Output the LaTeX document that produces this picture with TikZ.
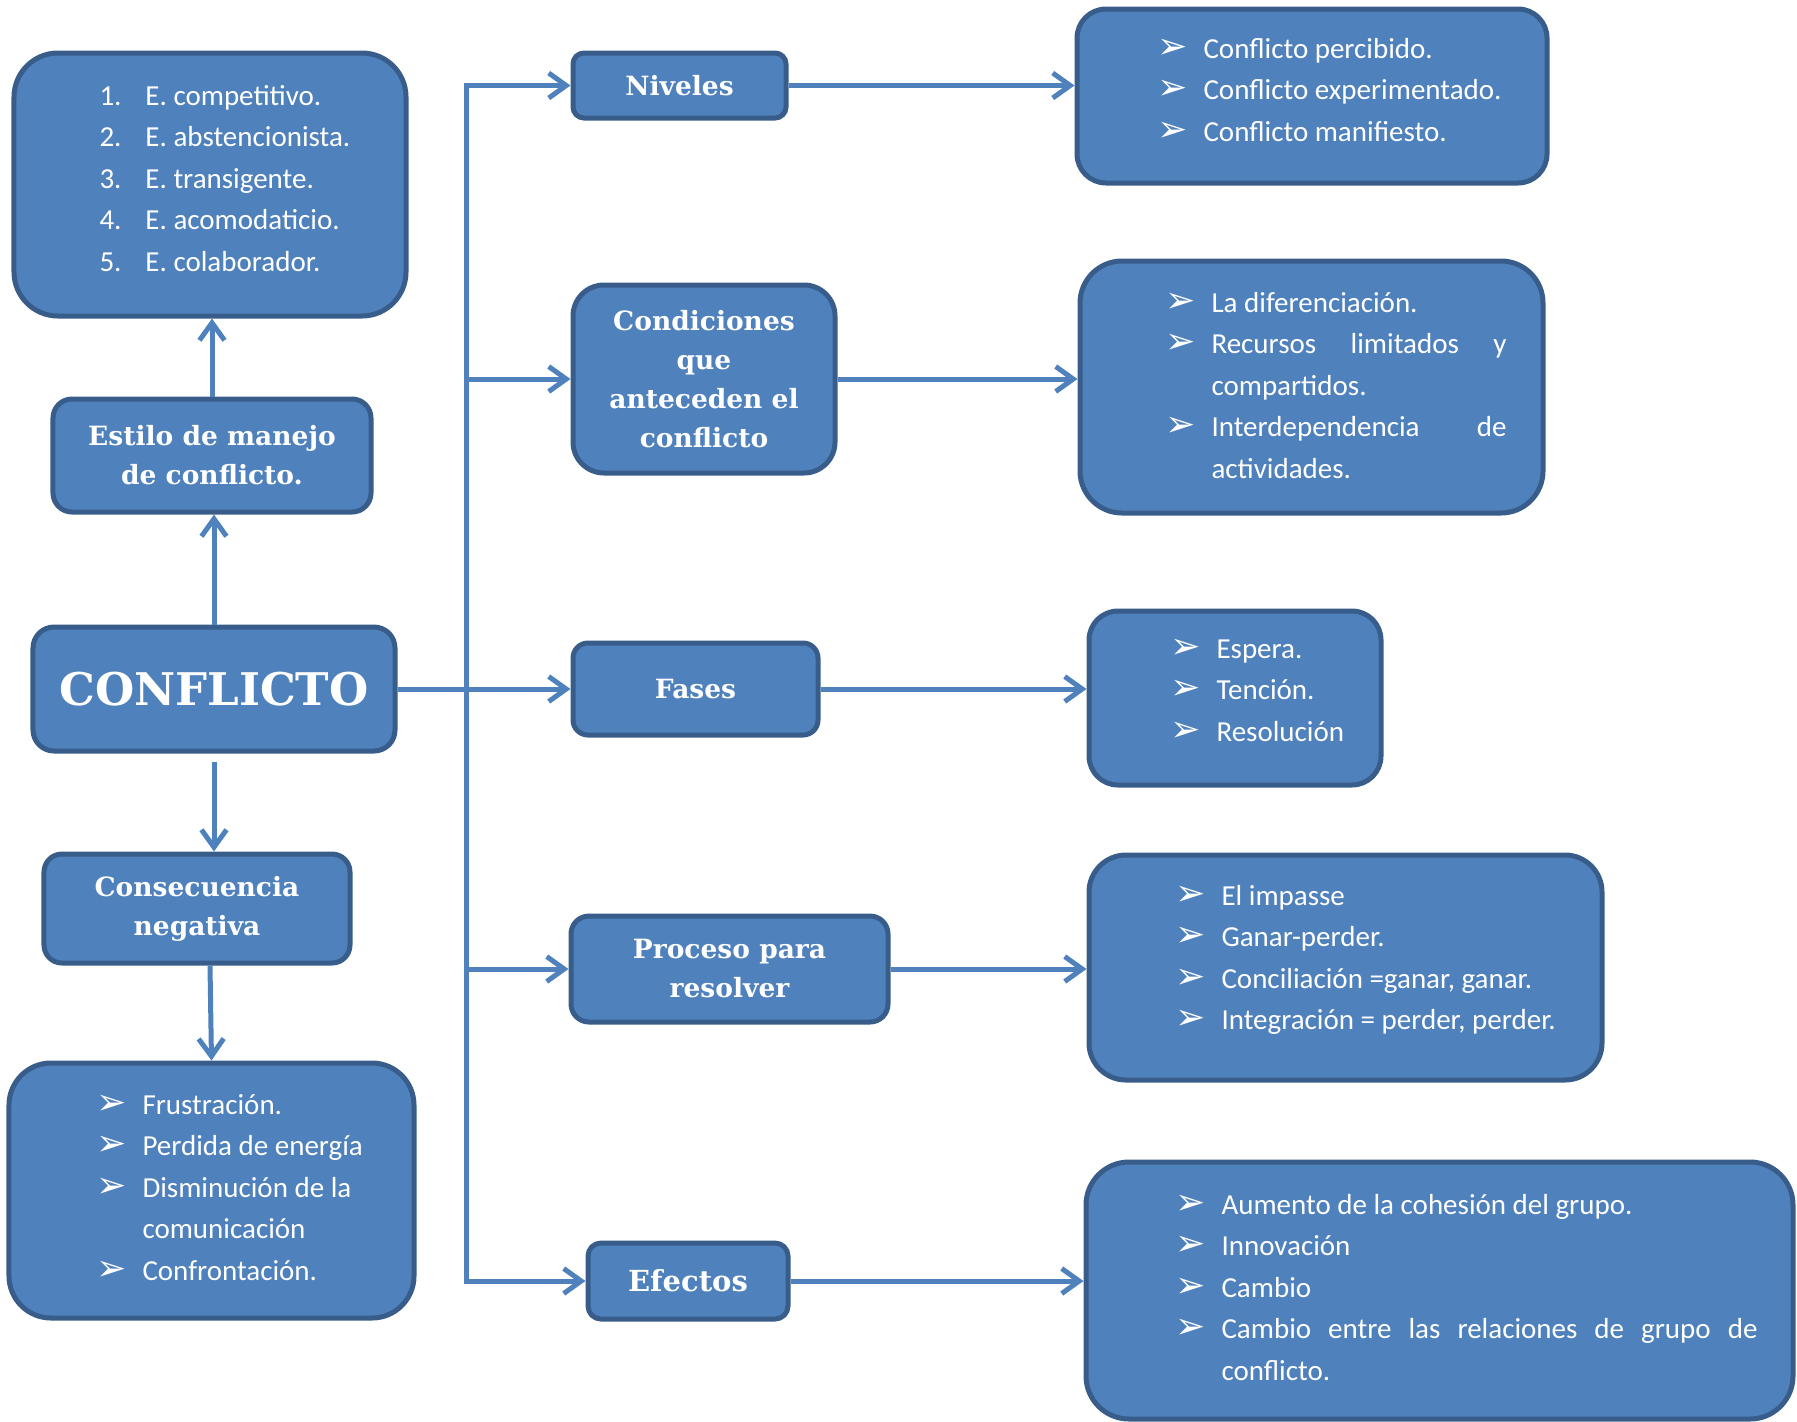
\documentclass[tikz,border=0pt]{standalone}
\usepackage{fontspec}
\setmainfont{Carlito}
\newfontfamily\headfont{DejaVu Serif}
\newfontfamily\symfont{DejaVu Sans}
\usetikzlibrary{arrows.meta}
\definecolor{boxblue}{HTML}{4F81BD}
\definecolor{boxedge}{HTML}{385D8A}
\hyphenpenalty=10000
\exhyphenpenalty=10000
\newcommand{\bul}{{\symfont\fontsize{14.5}{14.5}\selectfont\char"27A2}}
\newcommand{\itm}[1]{\hangindent=18.4pt\hangafter=1\makebox[18.4pt][l]{#1}}
\tikzset{
    box/.style={draw=boxedge, line width=2pt, fill=boxblue, text=white, align=center, inner sep=2pt},
    head/.style={box, font=\headfont\bfseries\fontsize{10.6}{15.6}\selectfont},
    listtxt/.style={text=white, anchor=base west, inner sep=0pt, align=justify, font=\fontsize{11.6}{16.6}\selectfont},
    arr/.style={draw=boxblue, line width=2pt, -{Straight Barb[length=7pt,width=10pt]}},
}
\begin{document}
\begin{tikzpicture}[x=0.4pt,y=-0.4pt]
        \useasboundingbox (0,0) rectangle (1797,1421);
        %% Left column
        \node[box, minimum width=156.8pt, minimum height=105.2pt, rounded corners=17.6pt] (estList) at (210,184.5) {};
        \node[head, minimum width=127.2pt, minimum height=45.2pt, rounded corners=7.6pt] (estilo) at (212,455.5) {Estilo de manejo\\de conflicto.};
        \node[head, minimum width=144.8pt, minimum height=49.6pt, rounded corners=8.4pt,
              font=\headfont\bfseries\fontsize{18}{20}\selectfont] (conflicto) at (214,689) {CONFLICTO};
        \node[head, minimum width=122.4pt, minimum height=43.6pt, rounded corners=7.2pt] (consec) at (197,908.5) {Consecuencia\\negativa};
        \node[box, minimum width=162pt, minimum height=102pt, rounded corners=16.8pt] (consList) at (211.5,1190.5) {};
        %% Middle column
        \node[head, minimum width=85.2pt, minimum height=26pt, rounded corners=4.4pt] (niveles) at (679.5,85.5) {Niveles};
        \node[head, minimum width=104.8pt, minimum height=75.2pt, rounded corners=12.4pt] (condic) at (704,379) {Condiciones\\que\\anteceden el\\conflicto};
        \node[head, minimum width=98pt, minimum height=36.8pt, rounded corners=6pt] (fases) at (695.5,689) {Fases};
        \node[head, minimum width=126.8pt, minimum height=42.4pt, rounded corners=7.2pt] (proceso) at (729.5,969) {Proceso para\\resolver};
        \node[head, minimum width=80pt, minimum height=30.4pt, rounded corners=5.2pt,
              font=\headfont\bfseries\fontsize{11.6}{14}\selectfont] (efectos) at (688,1281) {Efectos};
        %% Right column
        \node[box, minimum width=188pt, minimum height=69.6pt, rounded corners=11.6pt] (nivList) at (1312,96) {};
        \node[box, minimum width=185.2pt, minimum height=100.8pt, rounded corners=16.8pt] (condList) at (1311.5,387) {};
        \node[box, minimum width=116.8pt, minimum height=69.6pt, rounded corners=11.6pt] (fasesList) at (1235,698) {};
        \node[box, minimum width=205.2pt, minimum height=90pt, rounded corners=14.8pt] (procList) at (1345.5,967.5) {};
        \node[box, minimum width=282.8pt, minimum height=102.8pt, rounded corners=17.2pt] (efecList) at (1439.5,1290.5) {};
        %% Lists
        \node[listtxt, text width=140pt] (estTxt) at (99,105) {\itm{1.}E. competitivo.\par\itm{2.}E. abstencionista.\par\itm{3.}E. transigente.\par\itm{4.}E. acomodaticio.\par\itm{5.}E. colaborador.\par};
        \node[listtxt, text width=140pt] (consTxt) at (96,1114) {\itm{\bul}Frustración.\par\itm{\bul}Perdida de energía\par\itm{\bul}Disminución de la\newline comunicación\par\itm{\bul}Confrontación.\par};
        \node[listtxt, text width=150pt] (nivTxt) at (1157,58) {\itm{\bul}Conflicto percibido.\par\itm{\bul}Conflicto experimentado.\par\itm{\bul}Conflicto manifiesto.\par};
        \node[listtxt, text width=136.4pt] (condTxt) at (1165,312) {\itm{\bul}La diferenciación.\par\itm{\bul}Recursos limitados y\linebreak compartidos.\par\itm{\bul}Interdependencia de\linebreak actividades.\par};
        \node[listtxt, text width=100pt] (fasesTxt) at (1170,658) {\itm{\bul}Espera.\par\itm{\bul}Tención.\par\itm{\bul}Resolución\par};
        \node[listtxt, text width=180pt] (procTxt) at (1175,905) {\itm{\bul}El impasse\par\itm{\bul}Ganar-perder.\par\itm{\bul}Conciliación =ganar, ganar.\par\itm{\bul}Integración = perder, perder.\par};
        \node[listtxt, text width=232.8pt] (efecTxt) at (1175,1214) {\itm{\bul}Aumento de la cohesión del grupo.\par\itm{\bul}Innovación\par\itm{\bul}Cambio\par\itm{\bul}Cambio entre las relaciones de grupo de\linebreak conflicto.\par};
        %% Trunk
        \coordinate (tTop) at (466,85.5);
        \coordinate (tBot) at (466,1281);
        \draw[arr] (tBot) -- (tTop) -- (niveles.west);
        \draw[arr] (tTop) -- (tBot) -- (efectos.west);
        \foreach \n in {condic,proceso}
            \draw[arr] (tTop |- \n.west) -- (\n.west);
        \draw[arr] (conflicto.east) -- (fases.west);
        %% Box to list
        \foreach \a/\b in {niveles/nivList,condic/condList,fases/fasesList,proceso/procList,efectos/efecList}
            \draw[arr] (\a.east) -- (\a.east -| \b.west);
        %% Left column arrows
        \draw[arr] (conflicto.north) -- (conflicto.north |- estilo.south);
        \draw[arr] (estilo.north) -- (estilo.north |- estList.south);
        \draw[arr] ([yshift=-3.2pt]conflicto.south) -- (conflicto.south |- consec.north);
        \draw[arr] ([xshift=5.2pt]consec.south) -- (consList.north);
    \end{tikzpicture}
\end{document}
